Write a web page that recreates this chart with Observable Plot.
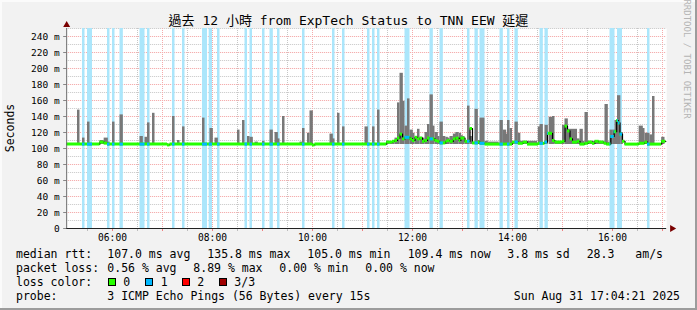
<!DOCTYPE html>
<html>
<head>
<meta charset="utf-8">
<script src="https://cdn.jsdelivr.net/npm/d3@7"></script>
<script src="https://cdn.jsdelivr.net/npm/@observablehq/plot@0.6"></script>
<style>
  html, body { margin: 0; padding: 0; background: #f2f2f2; }
  #wrap { position: relative; width: 697px; height: 310px; background: #f2f2f2; overflow: hidden;
          font-family: "DejaVu Sans Mono", monospace; color: #000;
          box-shadow: inset -2px -2px 0 #9c9c9c, inset 2px 2px 0 #fbfbfb; }
  #chart { position: absolute; left: 0; top: 0; }
  .t { position: absolute; white-space: pre; font-size: 11.5px; line-height: 14px; }
  #title { position: absolute; left: 0; width: 697px; top: 13px; text-align: center; font-size: 13px; line-height: 16px;
           font-family: "DejaVu Sans Mono", "Noto Sans CJK TC", monospace; white-space: pre; }
  #ylab { position: absolute; left: 10px; top: 128px; font-size: 11.5px; line-height: 14px; white-space: pre;
          transform: translate(-50%, -50%) rotate(-90deg); }
  #wm { position: absolute; left: 687px; top: 59px; font-size: 9px; line-height: 10px; color: #b4b4b4; white-space: pre;
        transform: translate(-50%, -50%) rotate(90deg); }
  .sw { position: absolute; width: 8px; height: 8px; box-sizing: border-box; border: 1px solid #000; top: 278px; }
</style>
</head>
<body>
<div id="wrap">
  <div id="chart"></div>
  <div id="title">過去 12 小時 from ExpTech Status to TNN EEW 延遲</div>
  <div id="ylab">Seconds</div>
  <div id="wm">RRDTOOL / TOBI OETIKER</div>
  <div id="legend"></div>
</div>
<script>
// ---------- data ----------
const timeStart = "05:05";
const timeEnd = "17:05";
const medianEnd = "17:04";

const yMajorTicks = [0, 20, 40, 60, 80, 100, 120, 140, 160, 180, 200, 220, 240];
const yMinorTicks = [10, 30, 50, 70, 90, 110, 130, 150, 170, 190, 210, 230, 250];
const xLabelTicks = ["06:00", "08:00", "10:00", "12:00", "14:00", "16:00"];

// loss = 1 periods (start, minutes)
const lossStart = ["05:24","05:30","05:54","06:00","06:09","06:33","06:42","07:12","07:24","07:48","07:56","08:06",
  "08:39","08:45","09:00","09:09","09:18","09:48","10:24","10:36","11:06","11:12","11:18","11:51","12:21","12:33",
  "13:06","13:15","13:21","13:45","13:54","14:03","14:33","14:39","15:57","16:06","16:42"];
const lossMinutes = [3,6,3,3,4,6,3,3,3,6,4,3,
  3,3,3,4,3,3,3,3,3,3,3,6,4,4,
  3,4,6,4,3,4,4,4,6,6,3];

// smoke (max rtt, ms) per period
const smokeMin = 105;
const smokeStart = ["05:18","05:24","05:30","05:45","05:50","05:54","06:00","06:09","06:33","06:39","06:42","06:48",
  "07:12","07:18","07:24","07:48","07:57","08:03","08:30","08:36","08:42","08:45","08:51","09:00","09:09","09:15",
  "09:18","09:24","09:45","09:48","09:54","09:57","10:21","10:24","10:30","10:36","11:03","11:12","11:18",
  "11:29","11:33","11:36","11:39","11:42","11:45","11:48","11:51","11:54","11:57","12:00","12:03","12:06","12:09",
  "12:12","12:15","12:18","12:21","12:24","12:27","12:30","12:33","12:36","12:40","12:42","12:45","12:49","12:52",
  "12:56","12:58","13:00","13:03","13:06","13:09","13:15","13:19","13:21","13:27","13:31","13:45","13:49","13:52",
  "13:54","13:57","14:00","14:03","14:07","14:09","14:31","14:33","14:39","14:44","14:48","14:51","15:00","15:03",
  "15:06","15:12","15:18","15:21","15:24","15:27","15:30","15:51","15:54","15:57","16:01","16:03","16:06","16:10",
  "16:32","16:36","16:39","16:42","16:45","16:48","16:59"];
const smokeMinutes = [3,3,3,5,5,3,3,4,4,4,3,3,
  3,3,3,3,4,4,3,3,3,4,4,3,4,4,
  3,3,4,3,3,4,4,3,3,3,4,3,3,
  4,4,3,4,3,4,3,4,3,4,3,4,3,4,
  3,4,3,4,3,4,3,4,4,3,3,4,4,4,
  3,3,3,3,3,3,4,3,6,4,13,4,4,3,
  3,3,3,4,3,21,3,4,4,5,3,9,3,4,
  6,6,3,4,3,4,20,4,3,4,3,4,4,3,
  5,3,4,3,4,3,4];
const smokeMax = [148,113,133,110,113,108,133,142,115,114,132,144,
  140,110,127,138,125,113,123,135,115,114,108,109,123,120,
  112,140,108,125,119,147,118,112,144,127,127,127,148,
  109,108,110,113,157,194,159,128,162,123,119,113,124,114,
  113,120,130,167,128,120,115,133,115,114,113,115,118,120,
  119,116,115,110,153,115,149,110,138,109,108,135,123,118,
  135,125,108,133,119,109,127,130,129,139,140,109,129,137,
  124,124,112,124,109,145,109,155,108,123,123,135,166,120,
  128,125,119,119,117,165,114];

// median rtt (ms), step changes
const medianTime = ["05:05","05:45","05:50","05:54","07:06","07:09","10:00","10:03","11:29","11:36","11:39","11:42",
  "11:45","11:48","11:51","11:57","12:00","12:03","12:06","12:09","12:12","12:15","12:18","12:21","12:27","12:30",
  "12:33","12:40","12:42","12:45","12:49","12:52","12:56","12:58","13:03","13:09","13:12","13:19","13:21","13:27",
  "14:00","14:07","14:13","14:18","14:31","14:39","14:42","14:48","14:51","15:00","15:03","15:06","15:09","15:12",
  "15:18","15:21","15:27","15:31","15:36","15:39","15:44","15:50","15:53","15:58","16:02","16:05","16:07","16:09",
  "16:12","16:15","16:32","16:39","16:42","16:59"];
const medianValue = [105.5,108,106.7,105.5,104.5,105.5,104.5,105.5,108,109,110,113,
  118,112,114,112,110,114,112,113,109,110,113,112,110,109,
  107,109,110,109,112,113,110,113,109,125,107,108,106.5,105.5,
  108,106.5,108,105.5,106.5,108,119,110,108,109,128,122,112,108,
  109,105.5,106.5,108,106.5,109,108,106.5,105.5,115,121,135,132,118,
  109,105.5,106.5,108,105.5,109];

// ---------- build ----------
const T = s => { const [h, m] = s.split(":").map(Number); return new Date(Date.UTC(2025, 7, 31, h, m)); };
const addMin = (d, m) => new Date(+d + m * 60000);
const xDomain = [T(timeStart), T(timeEnd)];
const fmt = d3.utcFormat("%H:%M");

const majorX = d3.utcHour.range(xDomain[0], xDomain[1]);
const minorX = d3.utcMinute.every(30).range(xDomain[0], xDomain[1]).filter(d => d.getUTCMinutes() === 30);
const labelX = xLabelTicks.map(T);

const bands = lossStart.map((s, i) => ({ s: T(s), e: addMin(T(s), lossMinutes[i]) }));
const smoke = smokeStart.map((s, i) => ({ s: T(s), e: addMin(T(s), smokeMinutes[i]), lo: smokeMin, hi: smokeMax[i] }));
const med = medianTime.map((t, i) => ({ s: T(t), e: T(medianTime[i + 1] ?? medianEnd), v: medianValue[i] }));
const medPts = med.map(d => ({ t: d.s, v: d.v })).concat([{ t: T(medianEnd), v: medianValue[medianValue.length - 1] }]);
const blue = [];
for (const b of bands) for (const m of med) {
  const s = Math.max(+b.s, +m.s), e = Math.min(+b.e, +m.e);
  if (e > s) blue.push({ s: new Date(s), e: new Date(e), v: m.v });
}

const GREEN = "#26ff00", BLUE = "#00b8ff";

const chart = Plot.plot({
  width: 697, height: 245,
  marginLeft: 66.1667, marginRight: 30.8333, marginTop: 28, marginBottom: 17,
  style: { fontFamily: "'DejaVu Sans Mono', monospace", fontSize: "9.5px", background: "transparent", overflow: "visible", color: "#000" },
  x: { type: "utc", domain: xDomain },
  y: { domain: [0, 250] },
  marks: [
    Plot.frame({ fill: "white", stroke: "none" }),
    Plot.gridY(yMinorTicks, { stroke: "#c6c6c6", strokeOpacity: 1, strokeDasharray: "1,1" }),
    Plot.gridX(minorX, { stroke: "#c6c6c6", strokeOpacity: 1, strokeDasharray: "1,1" }),
    Plot.gridY(yMajorTicks.filter(d => d > 0), { stroke: "#f3a0a0", strokeOpacity: 1, strokeDasharray: "1,1" }),
    Plot.gridX(majorX, { stroke: "#f5aaaa", strokeOpacity: 1, strokeDasharray: "1,1" }),
    Plot.rect(bands, { x1: "s", x2: "e", fill: "#abe6fb" }),
    Plot.rect(smoke, { x1: "s", x2: "e", y1: "lo", y2: "hi", fill: "#787878" }),
    Plot.line(medPts, { x: "t", y: "v", curve: "step-after", stroke: "#000", strokeWidth: 1.2 }),
    Plot.ruleY(med, { x1: "s", x2: "e", y: "v", stroke: GREEN, strokeWidth: 3 }),
    Plot.ruleY(blue, { x1: "s", x2: "e", y: "v", stroke: BLUE, strokeWidth: 3 }),
    Plot.axisY(yMajorTicks, { tickSize: 3, tickPadding: 4, stroke: "#888", fill: "#000", label: null, fontSize: 9.5,
      tickFormat: d => d === 0 ? "0" : d + " m" }),
    Plot.axisX(majorX, { tickSize: 3, stroke: "#f08080", tickFormat: () => "", label: null }),
    Plot.axisX(minorX, { tickSize: 3, stroke: "#bdbdbd", tickFormat: () => "", label: null }),
    Plot.axisX(labelX, { tickSize: 0, tickPadding: 6, tickFormat: fmt, label: null, fontSize: 9.6, fill: "#000" }),
    Plot.ruleY([0], { stroke: "#222", strokeWidth: 1 }),
    Plot.ruleX([xDomain[0]], { y1: 0, y2: 250, stroke: "#6e6e6e", strokeWidth: 1 }),
    Plot.dot([xDomain[0]], { x: d => d, y: () => 250, dy: -3.5, symbol: "triangle", r: 2.6, fill: "#7a0000", stroke: "none" }),
    Plot.dot([xDomain[1]], { x: d => d, y: () => 0, dx: 5.5, symbol: "triangle", r: 2.6, rotate: 90, fill: "#7a0000", stroke: "none" })
  ]
});
document.getElementById("chart").append(chart);

// ---------- legend ----------
const legendRows = [
  { top: 247, items: [[16, "median rtt:"], [107.3, "107.0 ms avg"], [207.3, "135.8 ms max"], [307.3, "105.0 ms min"],
    [407.7, "109.4 ms now"], [507.3, "3.8 ms sd"], [586.7, "28.3"], [635.3, "am/s"]] },
  { top: 261, items: [[16, "packet loss:"], [107.3, "0.56 % avg"], [193.3, "8.89 % max"], [279.3, "0.00 % min"], [365.3, "0.00 % now"]] },
  { top: 275, items: [[16, "loss color:"], [123.3, "0"], [160.7, "1"], [197.3, "2"], [234.3, "3/3"]] },
  { top: 289, items: [[16, "probe:"], [107.3, "3 ICMP Echo Pings (56 Bytes) every 15s"]] }
];
const lossColors = ["#26ff00", "#00b8ff", "#ff0000", "#a00000"];
const swatchX = [108.3, 145.3, 182.3, 219.3];
const lg = document.getElementById("legend");
for (const row of legendRows) for (const [x, txt] of row.items) {
  const s = document.createElement("div"); s.className = "t"; s.style.left = x + "px"; s.style.top = row.top + "px"; s.textContent = txt; lg.append(s);
}
lossColors.forEach((c, i) => {
  const s = document.createElement("div"); s.className = "sw"; s.style.left = swatchX[i] + "px"; s.style.background = c; lg.append(s);
});
const dt = document.createElement("div"); dt.className = "t"; dt.style.right = "17px"; dt.style.top = "289px";
dt.textContent = "Sun Aug 31 17:04:21 2025"; lg.append(dt);
</script>
</body>
</html>
